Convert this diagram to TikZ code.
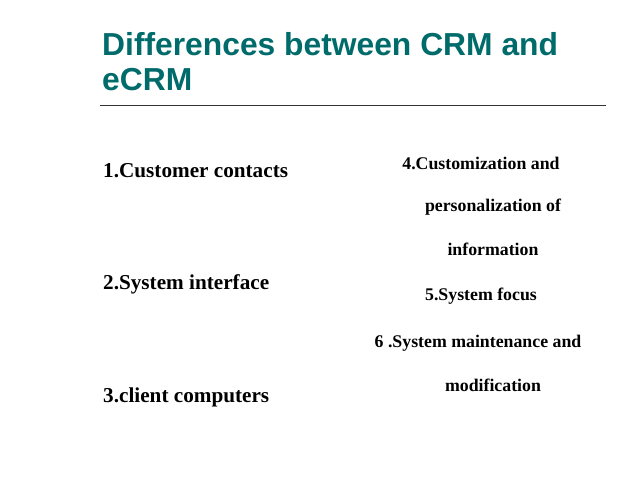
\documentclass[tikz,border=0pt]{standalone}
\usepackage{fontspec}
\setmainfont{Liberation Serif}
\newfontfamily\titlefont{Liberation Sans}
\definecolor{teal2}{HTML}{006B6B}
\begin{document}
\begin{tikzpicture}[x=1pt,y=-1pt,
  ttl/.style={anchor=west,inner sep=0,text=teal2,font=\titlefont\bfseries\fontsize{31.8}{34}\selectfont},
  lft/.style={anchor=west,inner sep=0,font=\bfseries\fontsize{21.2}{23}\selectfont},
  rgt/.style={inner sep=0,font=\bfseries\fontsize{17.8}{19}\selectfont}]
\useasboundingbox[fill=white] (0,0) rectangle (638,479);
\node[ttl] (t1) at (102,44) {Differences between CRM and};
\node[ttl] (t2) at (102,80) {eCRM};
\draw[line width=0.8pt,black!80] (100,105) -- (606,105);
\node[lft] (l1) at (103,171) {1.Customer contacts};
\node[lft] (l2) at (103,284) {2.System interface};
\node[lft] (l3) at (103,397) {3.client computers};
\node[rgt] (r1) at (481,163) {4.Customization and};
\node[rgt] (r2) at (493,207) {personalization of};
\node[rgt] (r3) at (493,249) {information};
\node[rgt] (r4) at (481,296) {5.System focus};
\node[rgt] (r5) at (478,343) {6 .System maintenance and};
\node[rgt] (r6) at (493,385) {modification};
\end{tikzpicture}
\end{document}
